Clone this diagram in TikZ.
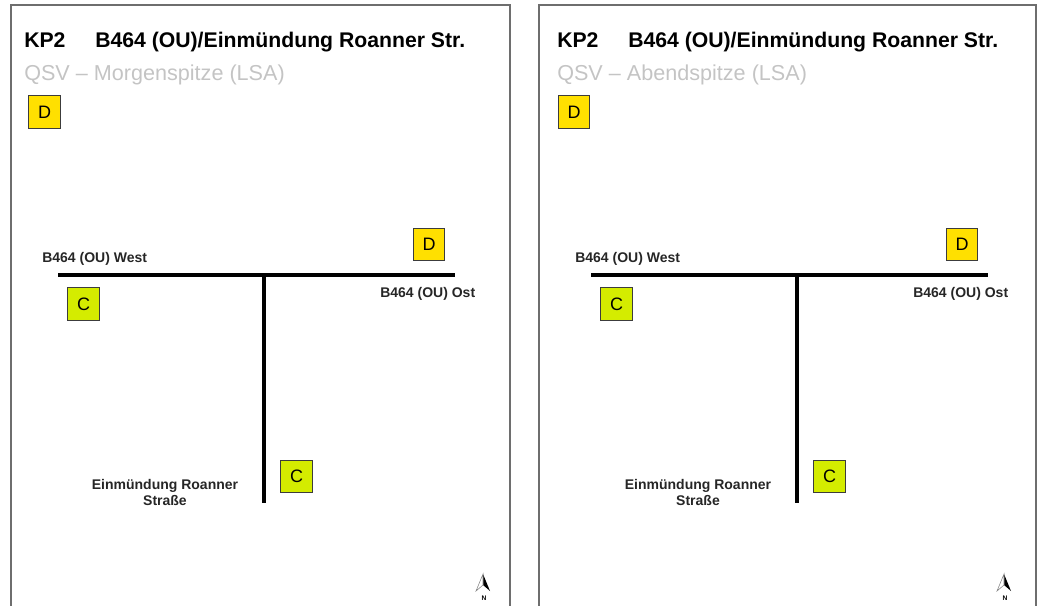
\documentclass[tikz,border=0pt]{standalone}
\usepackage{fontspec}
\setmainfont{Liberation Sans}
\usetikzlibrary{positioning}
\definecolor{framegray}{RGB}{110,110,110}
\definecolor{subgray}{RGB}{196,196,196}
\definecolor{dyellow}{RGB}{255,224,0}
\definecolor{clime}{RGB}{212,236,0}
\definecolor{boxline}{RGB}{60,60,60}
\tikzset{
  frame/.style={draw=framegray, line width=1.3pt},
  road/.style={line width=3pt, draw=black},
  sidestreet/.style={road, line width=2.4pt},
  lsbox/.style={draw=boxline, line width=0.6pt, minimum width=23.5pt,
                minimum height=24.5pt, inner sep=0pt,
                font=\fontsize{13.5}{15}\selectfont},
  dbox/.style={lsbox, fill=dyellow},
  cbox/.style={lsbox, fill=clime},
  titletext/.style={anchor=base west, inner sep=0pt,
                    font=\fontsize{15.9}{18}\selectfont\bfseries},
  subtext/.style={anchor=base west, inner sep=0pt, text=subgray,
                  font=\fontsize{16.2}{18}\selectfont},
  roadlabel/.style={inner sep=0pt, text=black!85, align=center,
                    font=\fontsize{10.5}{12}\selectfont\bfseries}
}
\begin{document}
\begin{tikzpicture}[x=0.75pt,y=-0.75pt]
  \useasboundingbox (0,0) rectangle (1038,606);
  \foreach \p/\dx/\bl/\br/\period/\dd/\nx in {m/0/11/510/Morgenspitze/44.5/483,
                                             a/533/6/503/Abendspitze/41/471}{
    \begin{scope}[shift={(\dx,0)}]
      \draw[frame] (\bl,606) -- (\bl,5) -- (\br,5) -- (\br,606);
      % heading
      \node[titletext] (kp-\p) at (24,48) {KP2};
      \node[titletext] (title-\p) at (95,48) {B464 (OU)/Einmündung Roanner Str.};
      \node[subtext] (qsv-\p) at (24,81) {QSV -- \period\ (LSA)};
      \node[dbox] (dtop-\p) at (\dd,112) {D};
      % roads
      \coordinate (west-\p) at (58,275);
      \coordinate (east-\p) at (455,275);
      \coordinate (junc-\p) at (264,275);
      \coordinate (south-\p) at (264,503);
      \draw[road] (west-\p) -- (east-\p);
      \draw[sidestreet] (junc-\p) -- (south-\p);
      \node[roadlabel, anchor=base west] (lw-\p) at (42,262) {B464 (OU) West};
      \node[roadlabel, anchor=base west] (lo-\p) at (380,297) {B464 (OU) Ost};
      \node[roadlabel] (ls-\p) at (165,492) {Einmündung Roanner\\Straße};
      \node[dbox] (deast-\p) at (429,244.5) {D};
      \node[cbox] (cwest-\p) at (83.5,304) {C};
      \node[cbox] (csouth-\p) at (296.5,476.5) {C};
      % north arrow
      \fill[black] (\nx,574) -- ({\nx+7},591) -- (\nx,585) -- cycle;
      \draw[gray, fill=white, line width=0.4pt] (\nx,574) -- ({\nx-7},591) -- (\nx,585) -- cycle;
      \node[inner sep=0pt, font=\fontsize{5}{6}\selectfont\bfseries] (n-\p) at ({\nx+1},598) {N};
    \end{scope}
  }
\end{tikzpicture}
\end{document}
